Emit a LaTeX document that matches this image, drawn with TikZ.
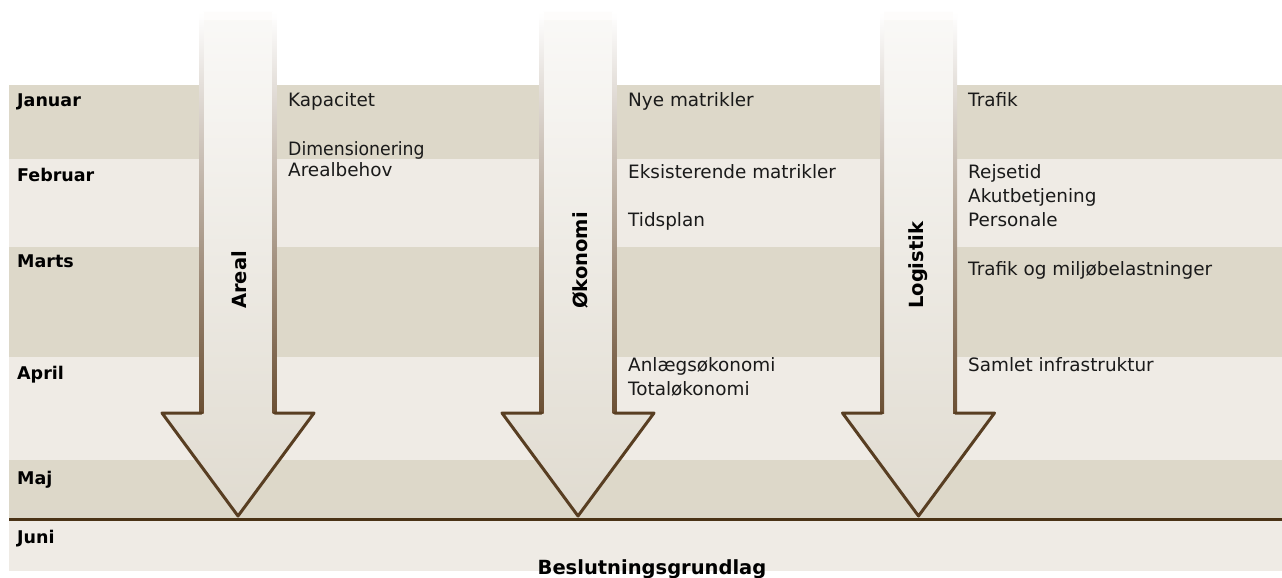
\documentclass[tikz,border=0pt]{standalone}
\usepackage{fontspec}
\setmainfont{DejaVu Sans}
\definecolor{banddark}{HTML}{DDD8C9}
\definecolor{bandlight}{HTML}{EFEBE5}
\definecolor{rulebrown}{HTML}{4A3316}
\definecolor{shtop}{HTML}{FAF9F7}
\definecolor{shmid}{HTML}{F0EDE8}
\definecolor{shbot}{HTML}{E0DBD0}
\definecolor{edgemid}{HTML}{B8A58F}
\definecolor{edgebot}{HTML}{6B4F33}
\definecolor{headline}{HTML}{583E22}
\definecolor{txt}{HTML}{1A1A1A}
\newcommand{\entryfont}{\fontsize{18.4bp}{21bp}\selectfont}
\newcommand{\monthfont}{\fontsize{17.5bp}{20bp}\selectfont\bfseries}
\newcommand{\vlabelfont}{\fontsize{19.5bp}{22bp}\selectfont\bfseries}
\tikzset{
  entrytext/.style={anchor=base west, inner sep=0pt, text=txt, font=\entryfont},
  monthtext/.style={anchor=base west, inner sep=0pt, text=black, font=\monthfont},
  vlabel/.style={anchor=base west, inner sep=0pt, rotate=90, text=black, font=\vlabelfont},
  headstroke/.style={draw=headline, line width=3bp, line join=round, line cap=round},
}
\begin{document}
\begin{tikzpicture}[x=1bp, y=-1bp]
\useasboundingbox (0,0) rectangle (1282,578);
\fill[white] (0,0) rectangle (1282,578);
% bands
\fill[banddark]  (9,85)  rectangle (1282,159);
\fill[bandlight] (9,159) rectangle (1282,247);
\fill[banddark]  (9,247) rectangle (1282,357);
\fill[bandlight] (9,357) rectangle (1282,460);
\fill[banddark]  (9,460) rectangle (1282,519);
\fill[bandlight] (9,519) rectangle (1282,571);
% arrows
\foreach \cx/\nm/\lbl/\bx in {238/areal/Areal/246.5, 578/okonomi/Økonomi/587, 918.5/logistik/Logistik/923.5}{
  \shade[top color=shtop, middle color=shmid, bottom color=shbot]
    (\cx-37,12) -- (\cx+37,12) -- (\cx+37,413) -- (\cx+76,413) -- (\cx,516)
    -- (\cx-76,413) -- (\cx-37,413) -- cycle;
  \shade[top color=white, middle color=edgemid, bottom color=edgebot]
    (\cx-38.5,12) rectangle (\cx-34.5,413);
  \shade[top color=white, middle color=edgemid, bottom color=edgebot]
    (\cx+34.5,12) rectangle (\cx+38.5,413);
  \fill[white, opacity=0.6] (\cx-39,10) rectangle (\cx+39,20);
  \draw[headstroke] (\cx-36.5,413) -- (\cx-76,413) -- (\cx,516) -- (\cx+76,413) -- (\cx+36.5,413);
  \node[vlabel] (\nm) at (\bx,309) {\lbl};
}
% decision line
\draw[rulebrown, line width=3bp] (9,519.5) -- (1282,519.5);
% months
\node[monthtext] (jan) at (17,107) {Januar};
\node[monthtext] (feb) at (17,182) {Februar};
\node[monthtext] (mar) at (17,268) {Marts};
\node[monthtext] (apr) at (17,380) {April};
\node[monthtext] (maj) at (17,484) {Maj};
\node[monthtext] (jun) at (17,543) {Juni};
% column 1
\node[entrytext] (kap) at (288,107) {Kapacitet};
\node[entrytext, xscale=0.94] (dim) at (288,156) {Dimensionering};
\node[entrytext] (arb) at (288,177) {Arealbehov};
% column 2
\node[entrytext] (nye) at (628,107) {Nye matrikler};
\node[entrytext] (eks) at (628,179) {Eksisterende matrikler};
\node[entrytext] (tid) at (628,227) {Tidsplan};
\node[entrytext] (anl) at (628,372) {Anlægsøkonomi};
\node[entrytext] (tot) at (628,395) {Totaløkonomi};
% column 3
\node[entrytext] (tra) at (968,107) {Trafik};
\node[entrytext] (rej) at (968,179) {Rejsetid};
\node[entrytext] (aku) at (968,203) {Akutbetjening};
\node[entrytext] (per) at (968,227) {Personale};
\node[entrytext] (tom) at (968,276) {Trafik og miljøbelastninger};
\node[entrytext] (sam) at (968,372) {Samlet infrastruktur};
% result
\node[anchor=base, inner sep=0pt, font=\vlabelfont] (bes) at (652,574.5) {Beslutningsgrundlag};
\end{tikzpicture}
\end{document}
